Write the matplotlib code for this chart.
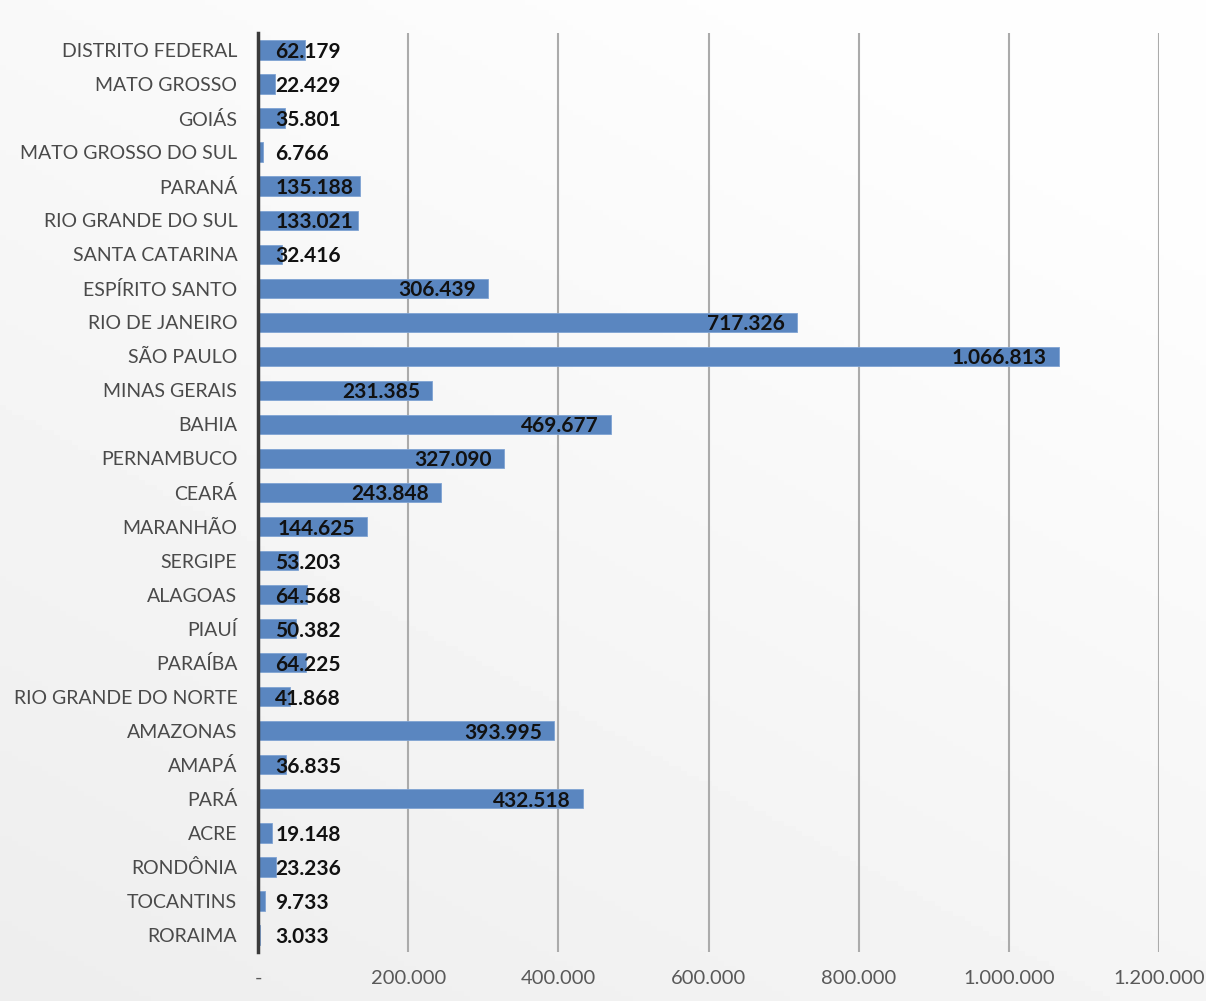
import numpy as np
import matplotlib
matplotlib.use("Agg")
import matplotlib.pyplot as plt

# Estados e valores (de cima para baixo)
estados = [
    "DISTRITO FEDERAL", "MATO GROSSO", "GOIÁS", "MATO GROSSO DO SUL", "PARANÁ",
    "RIO GRANDE DO SUL", "SANTA CATARINA", "ESPÍRITO SANTO", "RIO DE JANEIRO",
    "SÃO PAULO", "MINAS GERAIS", "BAHIA", "PERNAMBUCO", "CEARÁ", "MARANHÃO",
    "SERGIPE", "ALAGOAS", "PIAUÍ", "PARAÍBA", "RIO GRANDE DO NORTE", "AMAZONAS",
    "AMAPÁ", "PARÁ", "ACRE", "RONDÔNIA", "TOCANTINS", "RORAIMA",
]
valores = [
    62179, 22429, 35801, 6766, 135188,
    133021, 32416, 306439, 717326,
    1066813, 231385, 469677, 327090, 243848, 144625,
    53203, 64568, 50382, 64225, 41868, 393995,
    36835, 432518, 19148, 23236, 9733, 3033,
]
xticks = [0, 200000, 400000, 600000, 800000, 1000000, 1200000]


def fmt(v):
    # separador de milhar com ponto
    return f"{v:,}".replace(",", ".")


plt.rcParams['font.family'] = ['Lato', 'DejaVu Sans']

fig = plt.figure(figsize=(12.06, 10.01), dpi=100)

# fundo com leve degradê cinza
bg = fig.add_axes([0, 0, 1, 1], zorder=-10)
yy, xx = np.mgrid[0:1:200j, 0:1:200j]
grad = 0.93 + 0.065 * np.clip(0.7 * yy + 0.45 * xx, 0, 1)
bg.imshow(grad, cmap='gray', vmin=0, vmax=1, aspect='auto', origin='lower',
          extent=[0, 1, 0, 1])
bg.axis('off')

ax = fig.add_axes([0.214, 0.049, 0.961 - 0.214, 0.967 - 0.049])
ax.set_facecolor('none')

y = np.arange(len(estados))
ax.barh(y, valores, height=0.57, color='#5a86c0', edgecolor='#7fa3d3',
        linewidth=0.6, zorder=2)

ax.set_xlim(0, 1200000)
ax.set_ylim(len(estados) - 0.5, -0.5)
ax.set_yticks(y)
ax.set_yticklabels(estados, fontsize=14, color='#4a4a4a')
ax.set_xticks(xticks)
ax.set_xticklabels(["-"] + [fmt(t) for t in xticks[1:]], fontsize=14.5,
                   color='#595959')
ax.tick_params(axis='both', length=0)
ax.tick_params(axis='y', pad=15)
ax.tick_params(axis='x', pad=13)

ax.grid(axis='x', color='#ababab', linewidth=1.5, zorder=0)
ax.set_axisbelow(True)
for s in ['top', 'right', 'bottom']:
    ax.spines[s].set_visible(False)
ax.spines['left'].set_color('#3a3a3a')
ax.spines['left'].set_linewidth(2.5)
ax.spines['left'].set_zorder(3)

# rótulos de valor: dentro do fim da barra, ou junto ao eixo se não couberem
labels = []
for yi, v in zip(y, valores):
    t = ax.annotate(fmt(v), xy=(v, yi), xytext=(-12, -2),
                    textcoords='offset pixels', ha='right', va='center',
                    fontsize=15, fontweight='bold', color='#111111', zorder=4)
    labels.append((t, yi))

fig.canvas.draw()
x0_pix = ax.transData.transform((0, 0))[0]
renderer = fig.canvas.get_renderer()
for t, yi in labels:
    bb = t.get_window_extent(renderer)
    if bb.x0 < x0_pix + 17:
        t.xy = (0, yi)
        t.set_position((17, -2))
        t.set_ha('left')

fig.savefig("out.png", dpi=100)
